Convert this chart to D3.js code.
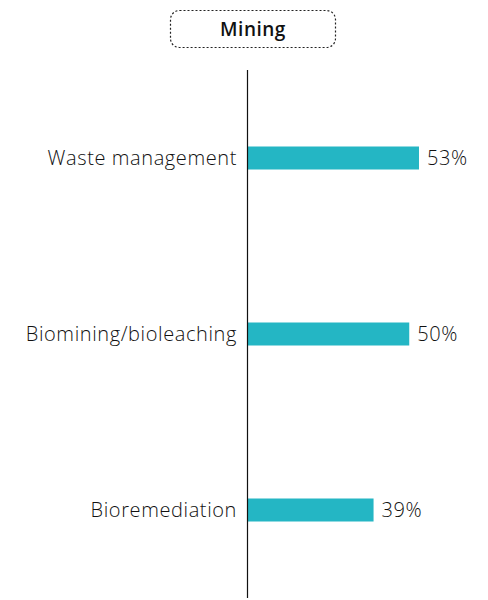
<!DOCTYPE html>
<meta charset="utf-8">
<script src="https://d3js.org/d3.v7.min.js"></script>
<style>
  body { margin: 0; background: #fff; }
  text { font-family: "Open Sans", "Noto Sans", sans-serif; fill: #111; }
</style>
<div id="my_viz"></div>
<script>

// Data
var title = "Mining"
var categories = ["Waste management", "Biomining/bioleaching", "Bioremediation"]
var values = [53, 50, 39]

var width = 488, height = 600
var axisX = 247

var svg = d3.select("#my_viz")
  .append("svg")
    .attr("width", width)
    .attr("height", height)

// x: percent to pixels
var x = d3.scaleLinear()
  .domain([0, 100])
  .range([axisX, axisX + 324.5])

// y: one band per category
var y = d3.scaleBand()
  .domain(categories)
  .range([70, 598])

var barH = 23

// Title box
svg.append("rect")
  .attr("x", 170.5)
  .attr("y", 10.5)
  .attr("width", 165)
  .attr("height", 37)
  .attr("rx", 9)
  .style("fill", "none")
  .style("stroke", "#222")
  .style("stroke-width", 1.2)
  .style("stroke-dasharray", "2,2")

svg.append("text")
  .attr("x", 253)
  .attr("y", 36)
  .attr("text-anchor", "middle")
  .style("font-size", "19px")
  .style("font-weight", 600)
  .style("letter-spacing", "0.5px")
  .text(title)

// Bars
svg.append("g")
  .selectAll("rect")
  .data(values)
  .enter()
  .append("rect")
    .attr("x", x(0))
    .attr("y", function(d, i) { return y(categories[i]) + y.bandwidth()/2 - barH/2 })
    .attr("width", function(d) { return x(d) - x(0) })
    .attr("height", barH)
    .style("fill", "#24b6c4")

// Category labels
svg.append("g")
  .selectAll("text")
  .data(categories)
  .enter()
  .append("text")
    .attr("x", axisX - 10)
    .attr("y", function(d) { return y(d) + y.bandwidth()/2 })
    .attr("dy", "0.35em")
    .attr("text-anchor", "end")
    .style("font-size", "20px")
    .style("font-weight", 300)
    .style("letter-spacing", "0.6px")
    .text(function(d) { return d })

// Value labels
svg.append("g")
  .selectAll("text")
  .data(values)
  .enter()
  .append("text")
    .attr("x", function(d) { return x(d) + 8 })
    .attr("y", function(d, i) { return y(categories[i]) + y.bandwidth()/2 })
    .attr("dy", "0.35em")
    .style("font-size", "20px")
    .style("font-weight", 300)
    .style("letter-spacing", "0.6px")
    .text(function(d) { return d + "%" })

// Axis line
svg.append("line")
  .attr("x1", axisX + 0.5)
  .attr("x2", axisX + 0.5)
  .attr("y1", 70)
  .attr("y2", 598)
  .style("stroke", "#111")
  .style("stroke-width", 1.2)

</script>
